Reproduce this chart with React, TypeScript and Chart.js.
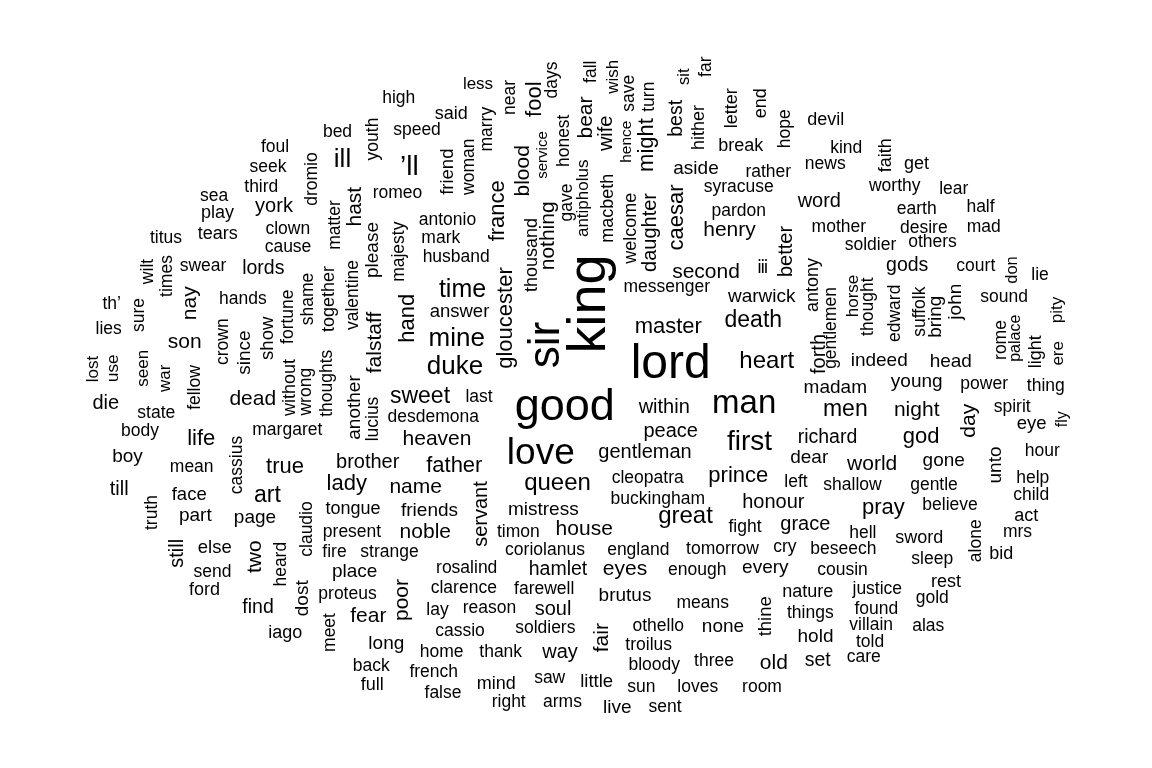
import React, { useEffect, useRef } from "react";
import { Chart, registerables } from "chart.js";

Chart.register(...registerables);

// Word-cloud layout: [word, layout x, layout y, weight]
// horizontal words: x = centre, y = baseline (layout units)
type Row = [string, number, number, number];

const horizontalWords: Row[] = [
  ["lord", 670.7, 378.3, 48], ["good", 564.7, 419.5, 45], ["love", 540.8, 464, 37], ["man", 744.2, 412.7, 33],
  ["first", 749.5, 450, 28], ["’ll", 409.3, 175.3, 28], ["ill", 342.5, 167.3, 26], ["mine", 456.7, 346, 26],
  ["duke", 455, 374.3, 26], ["time", 462.5, 296.7, 25], ["queen", 557.5, 490, 24], ["heart", 766.7, 368.3, 24],
  ["great", 685.5, 523.3, 24], ["sweet", 420, 402.7, 23], ["death", 753.3, 327.3, 23], ["men", 845.3, 416, 23],
  ["art", 267.5, 501.7, 23], ["master", 668.3, 333.3, 22], ["lady", 346.7, 490, 22], ["father", 454.3, 471.7, 22],
  ["prince", 738.3, 481.7, 22], ["god", 921.2, 442.7, 22], ["pray", 883.3, 514, 22], ["life", 201.2, 445, 22],
  ["true", 285, 473.3, 22], ["henry", 729.5, 236, 21], ["second", 706, 278.3, 21], ["heaven", 437, 445, 21],
  ["name", 415.7, 493.3, 21], ["noble", 425.3, 538.3, 21], ["house", 584.2, 535, 21], ["eyes", 625, 575, 21],
  ["son", 184.7, 348.3, 21], ["dead", 252.8, 405, 21], ["night", 916.7, 416, 21], ["world", 872.2, 470, 21],
  ["fear", 368.3, 621.7, 21], ["old", 773.8, 669.3, 21], ["brother", 367.7, 468.3, 20], ["peace", 670.7, 436.7, 20],
  ["within", 664.2, 412.7, 20], ["gentleman", 645, 458.3, 20], ["word", 819.3, 207.3, 20], ["grace", 805.3, 530, 20],
  ["honour", 773.3, 508.3, 20], ["way", 560, 657.7, 20], ["soul", 553, 615, 20], ["die", 105.8, 409.3, 20],
  ["till", 119.2, 495, 20], ["york", 274, 211.7, 20], ["hamlet", 558, 575, 19.5], ["richard", 827.5, 443.3, 19.5],
  ["find", 258, 613.3, 19.5], ["set", 817.7, 666, 19.5], ["lords", 263.3, 274, 19.5], ["gods", 907.2, 270.7, 19.5],
  ["warwick", 761.7, 301.7, 19], ["madam", 835.3, 392.7, 19], ["dear", 809.2, 463.3, 19], ["mistress", 543.3, 515, 19],
  ["friends", 429.5, 516, 19], ["place", 354.7, 577.3, 19], ["every", 765.3, 573.3, 19], ["brutus", 625, 600.7, 19],
  ["none", 723, 631.7, 19], ["hold", 815.5, 641.7, 19], ["long", 386.3, 649.3, 19], ["live", 617.3, 713.3, 19],
  ["indeed", 879.2, 366, 19], ["head", 950.8, 366.7, 19], ["young", 916.7, 386.7, 19], ["gone", 943.7, 466, 19],
  ["part", 195.3, 520.7, 19], ["page", 255, 523.3, 19], ["boy", 127.5, 462.3, 19], ["aside", 696, 174, 19],
  ["answer", 459.5, 316.7, 18.5], ["face", 189.2, 500, 18.5], ["eye", 1031.7, 429.3, 18.5], ["little", 596.7, 686.7, 18.5],
  ["else", 214.7, 552.7, 18.5], ["play", 217.5, 218.3, 18], ["tears", 217.7, 239.3, 18], ["said", 451.3, 119.3, 18],
  ["break", 740.8, 150.7, 18], ["devil", 825.8, 125, 18], ["get", 916.5, 169.3, 18], ["full", 372.2, 690, 18],
  ["mind", 496.2, 689.3, 18], ["act", 1026.2, 520.7, 18], ["sword", 919.2, 543.3, 18], ["bid", 1001.2, 559.3, 18],
  ["rest", 946, 586.7, 18], ["ford", 204.5, 595, 18], ["iago", 285.3, 638.3, 18], ["nature", 807.8, 596.7, 18],
  ["tongue", 353, 514, 18],
  ["foul", 275, 151.7, 17.5], ["seek", 268, 171.7, 17.5], ["third", 261.3, 192.3, 17.5], ["sea", 214, 200.7, 17.5],
  ["titus", 166, 242.7, 17.5], ["clown", 287.8, 234, 17.5], ["cause", 288, 252.3, 17.5], ["swear", 203, 270.7, 17.5],
  ["bed", 337.5, 137.3, 17.5], ["high", 398.7, 103.3, 17.5], ["less", 478, 89, 17], ["speed", 417, 135, 17.5],
  ["romeo", 397.5, 197.7, 17.5], ["antonio", 447.5, 225, 17.5], ["mark", 440.8, 243.3, 17.5], ["husband", 456.2, 261.7, 17.5],
  ["rather", 768.3, 177.3, 17.5], ["news", 825.3, 169.3, 17.5], ["kind", 846.2, 152.7, 17.5], ["syracuse", 738.7, 191.7, 17.5],
  ["pardon", 738.8, 216, 17.5], ["mother", 838.8, 231.7, 17.5], ["ⅲ", 762.7, 273.3, 17.5], ["worthy", 894.7, 190.7, 17.5],
  ["lear", 953.8, 194, 17.5], ["earth", 916.7, 214, 17.5], ["half", 980.5, 211.7, 17.5], ["desire", 923.8, 232.7, 17.5],
  ["mad", 983.8, 231.7, 17.5], ["soldier", 870.5, 250, 17.5], ["others", 932.5, 247.3, 17.5], ["court", 975.8, 270.7, 17.5],
  ["lie", 1040, 280, 17.5], ["th’", 111.7, 309.3, 17.5], ["hands", 242.8, 304.3, 17.5], ["lies", 108.7, 334, 17.5],
  ["state", 156.3, 417.7, 17.5], ["body", 140, 436, 17.5], ["margaret", 287.3, 435.3, 17.5], ["mean", 191.7, 471.7, 17.5],
  ["last", 479, 401.7, 17.5], ["desdemona", 433.3, 421.7, 17.5], ["messenger", 666.7, 291.7, 17.5], ["cleopatra", 647.7, 483.3, 17.5],
  ["left", 796, 486.7, 17.5], ["shallow", 852.5, 490, 17.5], ["buckingham", 657.8, 504, 17.5], ["sound", 1004.2, 301.7, 17.5],
  ["power", 984.2, 389.3, 17.5], ["thing", 1045.8, 390.7, 17.5], ["spirit", 1012.2, 411.7, 17.5], ["hour", 1042.2, 456, 17.5],
  ["help", 1032.8, 482.7, 17.5], ["gentle", 934, 490, 17.5], ["child", 1031.2, 500, 17.5], ["send", 212.5, 576.7, 17.5],
  ["present", 352, 536.7, 17.5], ["timon", 518.3, 536.7, 17.5], ["fire", 334.5, 556.7, 17.5], ["strange", 389.5, 556.7, 17.5],
  ["coriolanus", 545, 555, 17.5], ["england", 638.3, 555, 17.5], ["tomorrow", 722.5, 554, 17.5], ["cry", 784.8, 552.3, 17.5],
  ["beseech", 843.3, 554, 17.5], ["rosalind", 466.7, 573.3, 17.5], ["enough", 697.2, 575, 17.5], ["cousin", 842.5, 575, 17.5],
  ["proteus", 347.5, 599.3, 17.5], ["clarence", 463.8, 592.7, 17.5], ["farewell", 544.2, 594, 17.5], ["justice", 877.3, 594, 17.5],
  ["lay", 437.5, 615, 17.5], ["reason", 489.5, 612.7, 17.5], ["means", 702.8, 608.3, 17.5], ["things", 810.3, 618.3, 17.5],
  ["found", 876.3, 614, 17.5], ["gold", 932.3, 603.3, 17.5], ["cassio", 460, 636, 17.5], ["soldiers", 545.3, 632.7, 17.5],
  ["othello", 658.3, 630.7, 17.5], ["villain", 871.2, 630, 17.5], ["alas", 928.3, 630.7, 17.5], ["troilus", 648.7, 650, 17.5],
  ["told", 870, 647.3, 17.5], ["home", 441.7, 656.7, 17.5], ["thank", 500.7, 656.7, 17.5], ["bloody", 654.2, 670, 17.5],
  ["three", 714, 666, 17.5], ["care", 863.8, 661.7, 17.5], ["back", 371.2, 670.7, 17.5], ["french", 433.7, 677.3, 17.5],
  ["saw", 549.7, 683.3, 17.5], ["sun", 641.3, 691.7, 17.5], ["loves", 697.7, 692.3, 17.5], ["room", 762, 691.7, 17.5],
  ["false", 443, 698.3, 17.5], ["right", 508.7, 707.3, 17.5], ["arms", 562.5, 707.3, 17.5], ["sent", 665, 711.7, 17.5],
  ["believe", 950, 510, 17.5], ["hell", 862.8, 538.3, 17.5], ["mrs", 1017.5, 537.3, 17.5], ["sleep", 932.2, 564, 17.5],
  ["fight", 745, 531.7, 17.5],
];

// vertical words (read bottom to top): x = baseline, y = centre (layout units)
const verticalWords: Row[] = [
  ["king", 605, 304, 54], ["sir", 559, 345, 44], ["gloucester", 512, 318, 22], ["caesar", 682.7, 217.5, 22],
  ["hand", 414, 318.3, 22], ["might", 653, 145, 22], ["france", 504, 210.8, 22], ["fool", 541, 99.2, 22],
  ["nothing", 554, 235.8, 21], ["blood", 529.3, 170.8, 21], ["hast", 361, 206.7, 21], ["falstaff", 381, 342.5, 21],
  ["nay", 196, 303.3, 21], ["day", 975, 420.8, 21], ["two", 261, 556.7, 21], ["poor", 407.6, 600, 21],
  ["fair", 608, 637.7, 21], ["bear", 592.3, 117.5, 21], ["better", 792.3, 251.5, 20], ["wife", 612.3, 133.3, 20],
  ["servant", 486.5, 514, 20], ["still", 183, 553.3, 20], ["forth", 824.5, 354, 20], ["daughter", 655.5, 232.5, 20],
  ["best", 682.3, 118.3, 19.5], ["since", 249.5, 352.5, 19], ["another", 359.5, 407.5, 19], ["please", 377.7, 250, 19],
  ["bring", 941, 316.7, 19], ["john", 961, 301.7, 19], ["unto", 1001, 465, 19], ["dost", 308, 598.3, 19],
  ["faith", 891, 155.3, 18], ["thine", 771, 616.3, 18.5], ["show", 273, 338.3, 18.5], ["friend", 452.7, 171.7, 18.5],
  ["together", 334, 299, 18], ["light", 1041, 351.7, 18], ["macbeth", 613.3, 208.3, 18], ["welcome", 636, 228.3, 18],
  ["hither", 704, 127.5, 18], ["letter", 737.3, 108.3, 18], ["end", 765.7, 103.3, 18], ["antony", 818, 285, 18],
  ["without", 294.5, 387.5, 18], ["valentine", 358, 295, 17.5], ["thousand", 537, 255, 18], ["gentlemen", 836, 328, 17.5],
  ["thought", 873, 306.7, 17.5], ["dromio", 317.3, 179, 17.5], ["matter", 340, 225, 17.5], ["youth", 378.3, 139, 17.5],
  ["woman", 474.3, 166.7, 17.5], ["marry", 492.3, 129.2, 17.5], ["near", 515, 97.5, 17.5], ["days", 557, 80, 17.5],
  ["service", 547, 155, 15], ["honest", 569.3, 140.8, 17.5], ["majesty", 404, 251.7, 17.5], ["gave", 572, 202.5, 17.5],
  ["antipholus", 588, 198.3, 17], ["fall", 595.7, 71.7, 17.5], ["wish", 617.7, 76.7, 17], ["save", 633.7, 93.3, 17.5],
  ["turn", 654.3, 96.7, 17.5], ["hence", 631, 141.7, 15.5], ["sit", 689.3, 76.7, 16.5], ["far", 711, 66.7, 17.5],
  ["hope", 790, 128.8, 17.5], ["wilt", 153, 271.5, 17.5], ["times", 172, 276, 17.5], ["sure", 144.3, 315, 17.5],
  ["shame", 313, 299, 17.5], ["crown", 228, 341.7, 17.5], ["fortune", 293, 316.7, 17.5], ["lost", 98, 369, 17],
  ["use", 118, 368.3, 17], ["seen", 148, 368.3, 17], ["war", 169.5, 378.3, 17], ["fellow", 199.5, 387.5, 17.5],
  ["wrong", 310.7, 391.7, 17.5], ["thoughts", 331.5, 383.3, 17.5], ["cassius", 241.5, 465, 17.5], ["lucius", 378, 419, 17.5],
  ["horse", 858, 296, 17], ["edward", 899.5, 313.3, 17.5], ["suffolk", 924.5, 311.7, 17.5], ["pity", 1062, 310, 17],
  ["rome", 1006, 340, 17.5], ["palace", 1020, 338.3, 16], ["ere", 1063, 353.3, 17], ["fly", 1067, 419.2, 16],
  ["don", 1017, 270, 16.5], ["truth", 156.5, 512.5, 17.5], ["claudio", 311.5, 529, 17.5], ["heard", 286, 564.2, 17.5],
  ["meet", 334.5, 632.5, 17.5], ["alone", 980.5, 540.8, 17.5],
];

const FONT = '"Liberation Sans", Arial, Helvetica, sans-serif';

const toPoints = (rows: Row[]) =>
  rows.map(([word, x, y, w]) => ({ x, y, word, w }));

const wordPlugin = {
  id: "wordCloudText",
  afterDatasetsDraw(chart: any) {
    const ctx = chart.ctx;
    chart.data.datasets.forEach((ds: any, di: number) => {
      const meta = chart.getDatasetMeta(di);
      meta.data.forEach((el: any, i: number) => {
        const p = ds.data[i];
        ctx.save();
        ctx.font = `${p.w}px ${FONT}`;
        ctx.fillStyle = "#000000";
        ctx.textAlign = "center";
        ctx.textBaseline = "alphabetic";
        ctx.translate(el.x, el.y);
        if (ds.vertical) ctx.rotate(-Math.PI / 2);
        ctx.fillText(p.word, 0, 0);
        ctx.restore();
      });
    });
  },
};

export default function App() {
  const ref = useRef<HTMLCanvasElement | null>(null);
  useEffect(() => {
    document.body.style.margin = "0";
    document.body.style.background = "#ffffff";
    const canvas = ref.current;
    if (!canvas) return;
    const chart = new Chart(canvas, {
      type: "scatter",
      data: {
        datasets: [
          { label: "horizontal", data: toPoints(horizontalWords), pointRadius: 0, pointHoverRadius: 0, vertical: false } as any,
          { label: "vertical", data: toPoints(verticalWords), pointRadius: 0, pointHoverRadius: 0, vertical: true } as any,
        ],
      },
      options: {
        animation: false,
        responsive: false,
        devicePixelRatio: 1,
        layout: { padding: 0 },
        plugins: { legend: { display: false }, tooltip: { enabled: false } },
        events: [],
        scales: {
          x: { type: "linear", min: 0, max: 1152, display: false },
          y: { type: "linear", min: 0, max: 768, reverse: true, display: false },
        },
      },
      plugins: [wordPlugin],
    });
    return () => chart.destroy();
  }, []);
  return (
    <div style={{ position: "absolute", left: 0, top: 0, width: 1152, height: 768, background: "#fff" }}>
      <canvas ref={ref} width={1152} height={768} style={{ display: "block" }} />
    </div>
  );
}
